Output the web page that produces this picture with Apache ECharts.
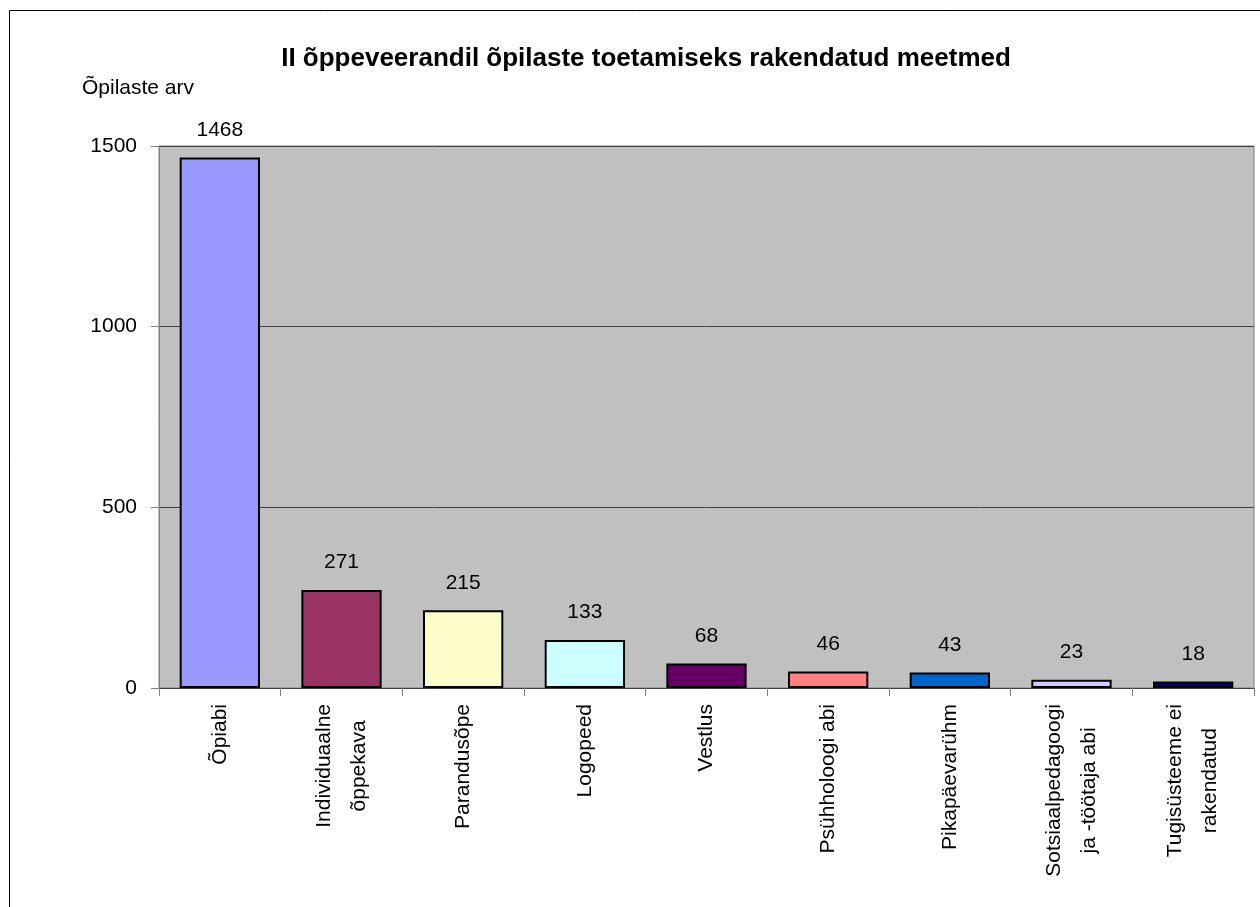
<!DOCTYPE html>
<html>
<head>
<meta charset="utf-8">
<script src="https://cdn.jsdelivr.net/npm/echarts@6/dist/echarts.min.js"></script>
<style>
  html, body { margin: 0; padding: 0; background: #fff; }
  #chart { width: 1260px; height: 907px; }
</style>
</head>
<body>
<div id="chart"></div>
<script>
// andmed
const categories = ['Õpiabi', 'Individuaalne\nõppekava', 'Parandusõpe', 'Logopeed', 'Vestlus',
    'Psühholoogi abi', 'Pikapäevarühm', 'Sotsiaalpedagoogi\nja -töötaja abi', 'Tugisüsteeme ei\nrakendatud'];
const values = [1468, 271, 215, 133, 68, 46, 43, 23, 18];
const barColors = ['#9999FF', '#993366', '#FFFFCC', '#CCFFFF', '#660066', '#FF8080', '#0066CC', '#CCCCFF', '#000080'];
const yTicks = [0, 500, 1000, 1500];

const font = 'Liberation Sans, Arial, sans-serif';
let chart = echarts.init(document.getElementById('chart'));
let option = {
    animation: false,
    textStyle: { fontFamily: font },
    title: [
        {
            text: 'II õppeveerandil õpilaste toetamiseks rakendatud meetmed',
            left: 641, top: 41, textAlign: 'center',
            textStyle: { fontSize: 26, fontWeight: 'bold', color: '#000', fontFamily: font }
        },
        {
            text: 'Õpilaste arv',
            left: 77, top: 73,
            textStyle: { fontSize: 21, fontWeight: 'normal', color: '#000', fontFamily: font }
        }
    ],
    graphic: [{
        type: 'rect',
        shape: { x: 9.5, y: 10.5, width: 1260, height: 907 },
        style: { fill: 'none', stroke: '#000', lineWidth: 1 },
        z: -10
    }],
    grid: {
        left: 159, right: 6, top: 146, bottom: 219,
        show: true, backgroundColor: '#C0C0C0', borderColor: '#808080', borderWidth: 1
    },
    xAxis: {
        type: 'category',
        data: categories,
        axisLine: { lineStyle: { color: '#404040', width: 1 } },
        axisTick: { show: true, interval: 0, length: 8, lineStyle: { color: '#808080' } },
        axisLabel: {
            interval: 0, rotate: 90, margin: 16,
            fontSize: 21, color: '#000', fontFamily: font,
            formatter: function (v) {
                return v.split('\n').map(function (s) { return '{c|' + s + '}'; }).join('\n');
            },
            rich: { c: { align: 'center', fontSize: 21, color: '#000', fontFamily: font, lineHeight: 35 } }
        }
    },
    yAxis: {
        type: 'value',
        min: yTicks[0], max: yTicks[yTicks.length - 1], interval: 500,
        axisLine: { show: true, lineStyle: { color: '#808080' } },
        axisTick: { show: true, length: 8, lineStyle: { color: '#808080' } },
        axisLabel: {
            margin: 22, fontSize: 21, color: '#000', fontFamily: font,
            formatter: function (v) { return String(v); }
        },
        splitLine: { lineStyle: { color: '#404040', width: 1 } }
    },
    series: [{
        type: 'bar',
        data: values.map(function (v, i) { return { value: v, itemStyle: { color: barColors[i] } }; }),
        barWidth: '66%',
        itemStyle: { borderColor: '#000', borderWidth: 2 },
        label: { show: true, position: 'top', distance: 17, fontSize: 21, color: '#000', fontFamily: font }
    }]
};
chart.setOption(option);
</script>
</body>
</html>
